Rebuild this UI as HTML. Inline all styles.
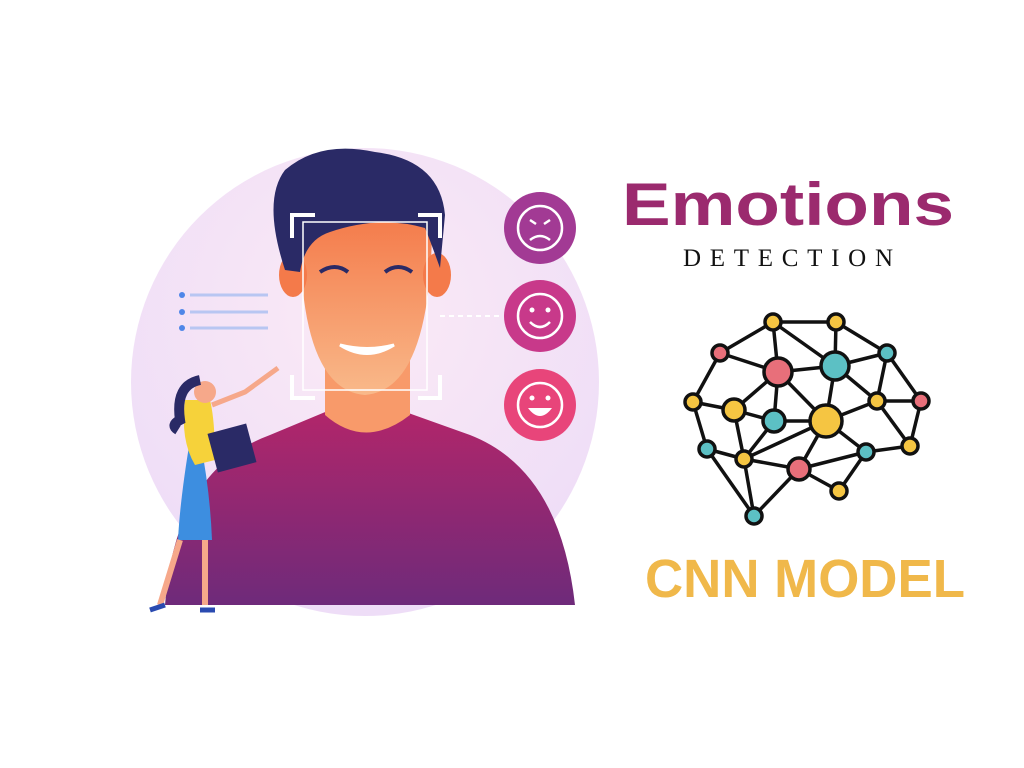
<!DOCTYPE html>
<html><head><meta charset="utf-8"><style>
html,body{margin:0;padding:0;background:#fff;width:1024px;height:768px;overflow:hidden}
svg{display:block}
</style></head><body>
<svg width="1024" height="768" viewBox="0 0 1024 768">
<defs>
<radialGradient id="bg" cx="0.5" cy="0.35" r="0.7"><stop offset="0" stop-color="#fbeaf6"/><stop offset="1" stop-color="#eddcf7"/></radialGradient>
<linearGradient id="body" x1="0" y1="0" x2="0" y2="1"><stop offset="0" stop-color="#b2266a"/><stop offset="1" stop-color="#6e2a7a"/></linearGradient>
<linearGradient id="face" x1="0" y1="0" x2="0" y2="1"><stop offset="0" stop-color="#f47a4a"/><stop offset="1" stop-color="#f9b98a"/></linearGradient>
</defs>
<g>
<circle cx="365" cy="382" r="234" fill="url(#bg)"/>
<path d="M165 605 Q175 470 270 435 L330 410 L400 410 L470 435 Q560 470 575 605 Z" fill="url(#body)"/>
<path d="M325 330 L325 415 Q365 450 410 415 L410 330 Z" fill="#f89a6a"/>
<path d="M300 230 Q300 390 365 395 Q430 390 432 230 Q365 200 300 230 Z" fill="url(#face)"/>
<ellipse cx="293" cy="275" rx="14" ry="22" fill="#f47a4a"/>
<ellipse cx="437" cy="275" rx="14" ry="22" fill="#f47a4a"/>
<path d="M285 270 Q262 200 285 170 Q320 140 375 152 Q440 160 445 215 L440 268 Q430 240 425 228 Q380 215 330 232 Q305 240 300 272 Z" fill="#2a2a66"/>
<path d="M320 272 Q335 262 348 272 M385 272 Q398 262 412 272" stroke="#2a2a66" stroke-width="4" fill="none"/>
<path d="M340 345 Q367 362 394 345 Q367 352 340 345 Z" fill="#fff" stroke="#fff" stroke-width="3"/>
<g stroke="#fff" stroke-width="4" fill="none">
<rect x="303" y="222" width="124" height="168" stroke-width="1.5"/>
<path d="M292 238 V215 H315 M418 215 H440 V238 M292 375 V398 H315 M418 398 H440 V375"/>
</g>
<g stroke="#b8c6f2" stroke-width="3">
<line x1="190" y1="295" x2="268" y2="295"/><line x1="190" y1="312" x2="268" y2="312"/><line x1="190" y1="328" x2="268" y2="328"/>
</g>
<g fill="#4f86e8"><circle cx="182" cy="295" r="3"/><circle cx="182" cy="312" r="3"/><circle cx="182" cy="328" r="3"/></g>
<line x1="440" y1="316" x2="500" y2="316" stroke="#fff" stroke-width="2" stroke-dasharray="5 4"/>
<g>
<circle cx="540" cy="228" r="36" fill="#a23a94"/>
<circle cx="540" cy="228" r="22" fill="none" stroke="#fff" stroke-width="2.5"/>
<path d="M530 240 Q540 232 550 240 M530 220 L536 224 M550 220 L544 224" stroke="#fff" stroke-width="2.5" fill="none"/>
<circle cx="540" cy="316" r="36" fill="#c8398a"/>
<circle cx="540" cy="316" r="22" fill="none" stroke="#fff" stroke-width="2.5"/>
<path d="M530 322 Q540 332 550 322" stroke="#fff" stroke-width="2.5" fill="none"/>
<circle cx="532" cy="310" r="2.5" fill="#fff"/><circle cx="548" cy="310" r="2.5" fill="#fff"/>
<circle cx="540" cy="405" r="36" fill="#e8457a"/>
<circle cx="540" cy="405" r="22" fill="none" stroke="#fff" stroke-width="2.5"/>
<path d="M528 408 Q540 424 552 408 Z" fill="#fff"/>
<circle cx="532" cy="398" r="2.5" fill="#fff"/><circle cx="548" cy="398" r="2.5" fill="#fff"/>
</g>
<g>
<path d="M190 440 Q180 500 178 540 L212 540 Q210 490 200 440 Z" fill="#3d8ee0"/>
<path d="M180 540 L160 605 M205 540 L205 605" stroke="#f6a88a" stroke-width="6"/>
<path d="M150 610 L165 605 M200 610 L215 610" stroke="#2a4ab0" stroke-width="5"/>
<path d="M185 400 Q180 440 195 465 L215 460 Q215 420 210 400 Z" fill="#f6d23a"/>
<circle cx="205" cy="392" r="11" fill="#f6a88a"/>
<path d="M200 380 Q175 385 180 420 Q170 425 178 430" stroke="#2a2a66" stroke-width="10" fill="none"/>
<path d="M212 405 L245 392 L278 368" stroke="#f6a88a" stroke-width="5" fill="none"/>
<rect x="212" y="428" width="40" height="40" fill="#2a2a66" transform="rotate(-15 232 448)"/>
</g>
</g>
<g>
<text x="622" y="225" font-family="'Liberation Sans',sans-serif" font-weight="bold" font-size="60" fill="#9b2a6e" textLength="332" lengthAdjust="spacingAndGlyphs">Emotions</text>
<text x="683" y="266" font-family="'Liberation Serif',serif" font-size="25" fill="#111" textLength="210" lengthAdjust="spacing">DETECTION</text>
</g>
<g id="brain"></g>
<text x="645" y="597" font-family="'Liberation Sans',sans-serif" font-weight="bold" font-size="54" fill="#f0b84a" textLength="320" lengthAdjust="spacingAndGlyphs">CNN MODEL</text>
</svg>
<script>
const nodes=[[773,322,'y',8],[836,322,'y',8],[720,353,'p',8],[887,353,'t',8],[778,372,'p',14],[835,366,'t',14],[693,402,'y',8],[734,410,'y',11],[774,421,'t',11],[826,421,'y',16],[877,401,'y',8],[921,401,'p',8],[707,449,'t',8],[744,459,'y',8],[799,469,'p',11],[866,452,'t',8],[910,446,'y',8],[839,491,'y',8],[754,516,'t',8]];
const edges=[[0,1],[0,2],[0,4],[1,5],[1,3],[0,5],[2,4],[2,6],[4,5],[3,5],[3,10],[3,11],[4,7],[4,8],[5,9],[5,10],[6,7],[6,12],[7,8],[8,9],[9,10],[10,11],[11,16],[10,16],[9,15],[9,14],[8,13],[7,13],[12,13],[12,18],[13,14],[14,17],[15,16],[15,17],[14,18],[13,18],[9,13],[15,14],[4,9]];
const colors={y:'#f5c542',p:'#e86f7a',t:'#5cc0c4'};
const g=document.getElementById('brain');const ns='http://www.w3.org/2000/svg';
edges.forEach(e=>{const l=document.createElementNS(ns,'line');


l.setAttribute('x1',nodes[e[0]][0]);l.setAttribute('y1',nodes[e[0]][1]);l.setAttribute('x2',nodes[e[1]][0]);l.setAttribute('y2',nodes[e[1]][1]);l.setAttribute('stroke','#111');l.setAttribute('stroke-width','3.5');g.appendChild(l);});
nodes.forEach(n=>{const c=document.createElementNS(ns,'circle');


c.setAttribute('cx',n[0]);c.setAttribute('cy',n[1]);c.setAttribute('r',n[3]);c.setAttribute('fill',colors[n[2]]);c.setAttribute('stroke','#111');c.setAttribute('stroke-width','3.5');g.appendChild(c);});
</script>
</body></html>
